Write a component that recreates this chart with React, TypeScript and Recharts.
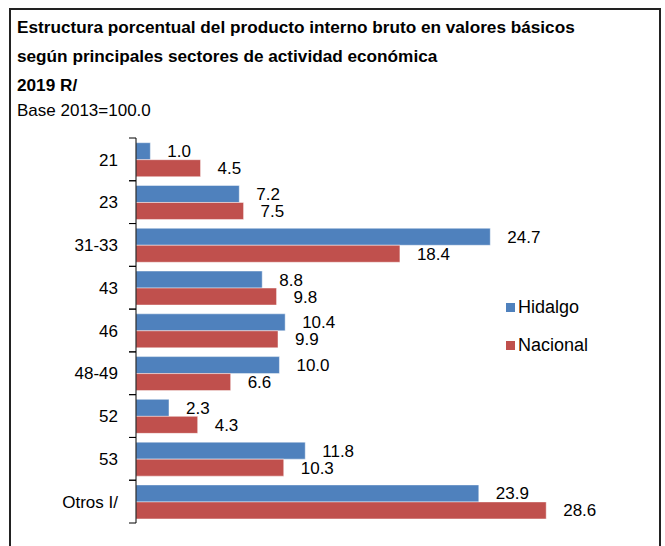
import { BarChart, Bar, XAxis, YAxis, Legend, LabelList } from "recharts"

const categories = ["21", "23", "31-33", "43", "46", "48-49", "52", "53", "Otros I/"]
const hidalgo = [1.0, 7.2, 24.7, 8.8, 10.4, 10.0, 2.3, 11.8, 23.9]
const nacional = [4.5, 7.5, 18.4, 9.8, 9.9, 6.6, 4.3, 10.3, 28.6]

const titleLines = [
  "Estructura porcentual del producto interno bruto en valores básicos",
  "según principales sectores de actividad económica",
  "2019 R/",
]
const subtitle = "Base 2013=100.0"

const data = categories.map((sector, i) => ({
  sector,
  Hidalgo: hidalgo[i],
  Nacional: nacional[i],
}))

const FONT = "'Liberation Sans', Arial, sans-serif"
const TICK_SIZE = 7
const TICK_MARGIN = 11

// category ticks sit on the band edges, like Excel does
function SectorTick(props: any) {
  const { x, y, payload } = props
  const half = payload?.offset ?? 0
  const lx = x + TICK_MARGIN
  return (
    <g>
      <line x1={lx} x2={lx + TICK_SIZE} y1={y - half} y2={y - half} stroke="#000" />
      <line x1={lx} x2={lx + TICK_SIZE} y1={y + half} y2={y + half} stroke="#000" />
      <text x={x} y={y} dy="0.36em" textAnchor="end" fontSize={17} fill="#000" fontFamily={FONT}>
        {payload.value}
      </text>
    </g>
  )
}

function LegendBox({ payload }: any) {
  return (
    <div>
      {(payload || []).map((item: any) => (
        <div key={item.value} style={{ display: "flex", alignItems: "center", height: 38 }}>
          <span style={{ width: 9, height: 9, background: item.color, marginRight: 3 }} />
          <span style={{ fontSize: 18, color: "#000", fontFamily: FONT }}>{item.value}</span>
        </div>
      ))}
    </div>
  )
}

const fmt = (v: any) => Number(v).toFixed(1)

export default function App() {
  return (
    <div
      style={{
        position: "absolute",
        left: 0,
        top: 0,
        width: 665,
        height: 546,
        background: "#fff",
        overflow: "hidden",
        fontFamily: FONT,
      }}
    >
      <div
        style={{
          position: "absolute",
          left: 9,
          top: 8,
          width: 648,
          height: 600,
          border: "2px solid #222",
        }}
      />
      {titleLines.map((t, i) => (
        <div
          key={t}
          style={{
            position: "absolute",
            left: 17,
            top: [17, 46, 75][i],
            fontSize: 17.2,
            lineHeight: "20px",
            fontWeight: "bold",
            whiteSpace: "nowrap",
          }}
        >
          {t}
        </div>
      ))}
      <div style={{ position: "absolute", left: 17, top: 101, fontSize: 17, lineHeight: "20px" }}>{subtitle}</div>
      <div style={{ position: "absolute", left: 0, top: 0 }}>
        <BarChart
          width={665}
          height={546}
          data={data}
          layout="vertical"
          margin={{ top: 138, right: 27, bottom: 23, left: 76 }}
          barCategoryGap="11%"
          barGap={0}
        >
          <XAxis type="number" domain={[0, 35]} hide />
          <YAxis
            type="category"
            dataKey="sector"
            width={60}
            axisLine={{ stroke: "#000" }}
            tickLine={false}
            tickSize={TICK_SIZE}
            tickMargin={TICK_MARGIN}
            tick={<SectorTick />}
            interval={0}
          />
          <Legend
            layout="vertical"
            align="center"
            verticalAlign="middle"
            content={<LegendBox />}
            wrapperStyle={{ left: 506, top: 288, width: 120 }}
          />
          <Bar dataKey="Hidalgo" fill="#4F81BD" stroke="rgba(255,255,255,0.45)" isAnimationActive={false}>
            <LabelList dataKey="Hidalgo" position="right" offset={17} formatter={fmt} fontSize={17} fill="#000" fontFamily={FONT} />
          </Bar>
          <Bar dataKey="Nacional" fill="#C0504D" stroke="rgba(255,255,255,0.45)" isAnimationActive={false}>
            <LabelList dataKey="Nacional" position="right" offset={17} formatter={fmt} fontSize={17} fill="#000" fontFamily={FONT} />
          </Bar>
        </BarChart>
      </div>
    </div>
  )
}
